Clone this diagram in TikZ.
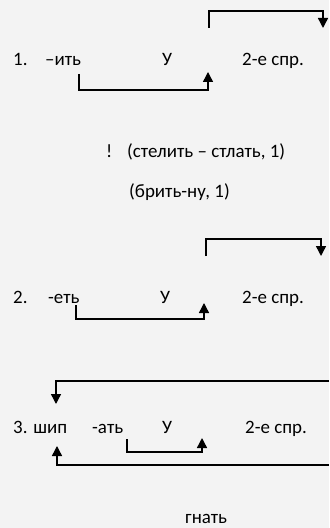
\documentclass[tikz,border=0pt]{standalone}
\usepackage{fontspec}
\setmainfont{Carlito}
\usetikzlibrary{arrows.meta}
\definecolor{paper}{RGB}{243,243,243}

\begin{document}
\begin{tikzpicture}[x=1bp,y=-1bp,
    txt/.style={anchor=base west,inner sep=0pt,font=\fontsize{19}{22}\selectfont},
    link/.style={line width=1.4bp,-{Triangle[width=10bp,length=10bp]}}]
  \fill[paper] (0,0) rectangle (329,528);
  \useasboundingbox (0,0) rectangle (329,528);
  % rows 1 and 2
  \foreach \r/\yb/\num/\suf/\sx/\ux in {1/66/1./–ить/45/162,2/303/2./-еть/48/160}{
    \node[txt] (num\r) at (13,\yb) {\num};
    \node[txt] (suf\r) at (\sx,\yb) {\suf};
    \node[txt] (u\r) at (\ux,\yb) {У};
    \node[txt] (conj\r) at (242,\yb) {2-е спр.};
  }
  \node[txt] (excl) at (106,158) {!};
  \node[txt] (ex1) at (127,158) {(стелить – стлать, 1)};
  \node[txt] (ex2) at (129,198) {(брить-ну, 1)};
  % row 3
  \node[txt] (num3) at (13,433) {3. шип};
  \node[txt] (suf3) at (92,433) {-ать};
  \node[txt] (u3) at (162,433) {У};
  \node[txt] (conj3) at (245,433) {2-е спр.};
  \node[txt] (ex3) at (185,523) {гнать};
  % arrow ends
  \coordinate (b1s) at (79,74);  \coordinate (b1e) at (208,72);
  \coordinate (t1s) at (209,28); \coordinate (t1e) at (323,28);
  \coordinate (b2s) at (76,305); \coordinate (b2e) at (204,303);
  \coordinate (t2s) at (206,256); \coordinate (t2e) at (321,256);
  \coordinate (b3s) at (127,439); \coordinate (b3e) at (202,438);
  \coordinate (r3a) at (329,381); \coordinate (l3a) at (56,404);
  \coordinate (r3b) at (329,465); \coordinate (l3b) at (57,446);
  \draw[link] (b1s) -- ++(0,16) -| (b1e);
  \draw[link] (t1s) -- ++(0,-17) -| (t1e);
  \draw[link] (b2s) -- ++(0,14) -| (b2e);
  \draw[link] (t2s) -- ++(0,-17) -| (t2e);
  \draw[link] (b3s) -- ++(0,13) -| (b3e);
  \draw[link] (r3a) -| (l3a);
  \draw[link] (r3b) -| (l3b);
\end{tikzpicture}
\end{document}
